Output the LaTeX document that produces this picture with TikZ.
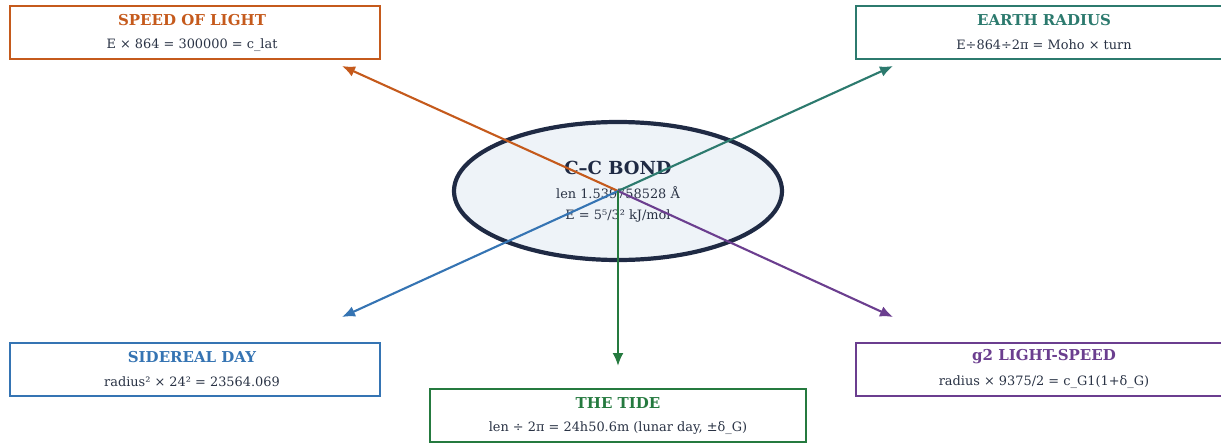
\documentclass[tikz,border=0pt]{standalone}
\usepackage{fontspec}
\setmainfont{DejaVu Serif}
\usetikzlibrary{arrows.meta,shapes.geometric}
\definecolor{corange}{HTML}{C55A1C}
\definecolor{cteal}{HTML}{2C7A6E}
\definecolor{cblue}{HTML}{3574B3}
\definecolor{cpurple}{HTML}{6B3E8F}
\definecolor{cgreen}{HTML}{257A3F}
\definecolor{cnavy}{HTML}{1F2A44}
\definecolor{ctext}{HTML}{2A3345}
\definecolor{cfill}{HTML}{EEF3F8}
\tikzset{
  infobox/.style={draw=#1, line width=2.8pt, fill=white, minimum width=370pt, minimum height=53pt, inner sep=0pt},
  ttl/.style={font=\fontsize{15}{17}\selectfont\bfseries, text=#1},
  bdy/.style={font=\fontsize{12.9}{15}\selectfont, text=ctext},
  conn/.style={draw=#1, line width=2.1pt, -{Latex[length=13pt,width=11pt]}},
}
\begin{document}
\begin{tikzpicture}[x=1pt,y=-1pt]
\useasboundingbox (0,0) rectangle (1221,442);
\clip (0,0) rectangle (1221,442);
% boxes
\node[infobox=corange] (sol) at (195,32.5) {};
\node[ttl=corange] (solt) at (192,20) {SPEED OF LIGHT};
\node[bdy] (solb) at (192,45) {E × 864 = 300000 = c\_lat};
\node[infobox=cteal] (er) at (1041,32.5) {};
\node[ttl=cteal] (ert) at (1044,20) {EARTH RADIUS};
\node[bdy] (erb) at (1044,45) {E÷864÷2π = Moho × turn};
\node[infobox=cblue] (sd) at (195,369.5) {};
\node[ttl=cblue] (sdt) at (192,357) {SIDEREAL DAY};
\node[bdy] (sdb) at (192,382) {radius² × 24² = 23564.069};
\node[infobox=cpurple] (gl) at (1041,369.5) {};
\node[ttl=cpurple] (glt) at (1044,357) {g2 LIGHT-SPEED};
\node[bdy] (glb) at (1044,382) {radius × 9375/2 = c\_G1(1+δ\_G)};
\node[infobox=cgreen, minimum width=376pt] (td) at (618,415.5) {};
\node[ttl=cgreen] (tdt) at (618,403) {THE TIDE};
\node[bdy] (tdb) at (618,428) {len ÷ 2π = 24h50.6m (lunar day, ±δ\_G)};
% center ellipse
\node[ellipse, draw=cnavy, line width=4.2pt, fill=cfill, minimum width=328pt, minimum height=138pt, inner sep=0pt] (cc) at (618,191) {};
\node[font=\fontsize{18}{21}\selectfont\bfseries, text=cnavy] (cct) at (618,168) {C–C BOND};
\node[bdy] (ccl) at (618,193) {len 1.539758528 Å};
\node[bdy] (cce) at (618,216) {E = 5⁵/3² kJ/mol};
% arrow tips
\coordinate (pSOL) at (342,66);
\coordinate (pER) at (893,66);
\coordinate (pSD) at (342,317);
\coordinate (pGL) at (893,317);
\coordinate (pTD) at (618,366);
\draw[conn=corange] (cc.center) -- (pSOL);
\draw[conn=cteal] (cc.center) -- (pER);
\draw[conn=cblue] (cc.center) -- (pSD);
\draw[conn=cpurple] (cc.center) -- (pGL);
\draw[conn=cgreen] (cc.center) -- (pTD);
\end{tikzpicture}
\end{document}
